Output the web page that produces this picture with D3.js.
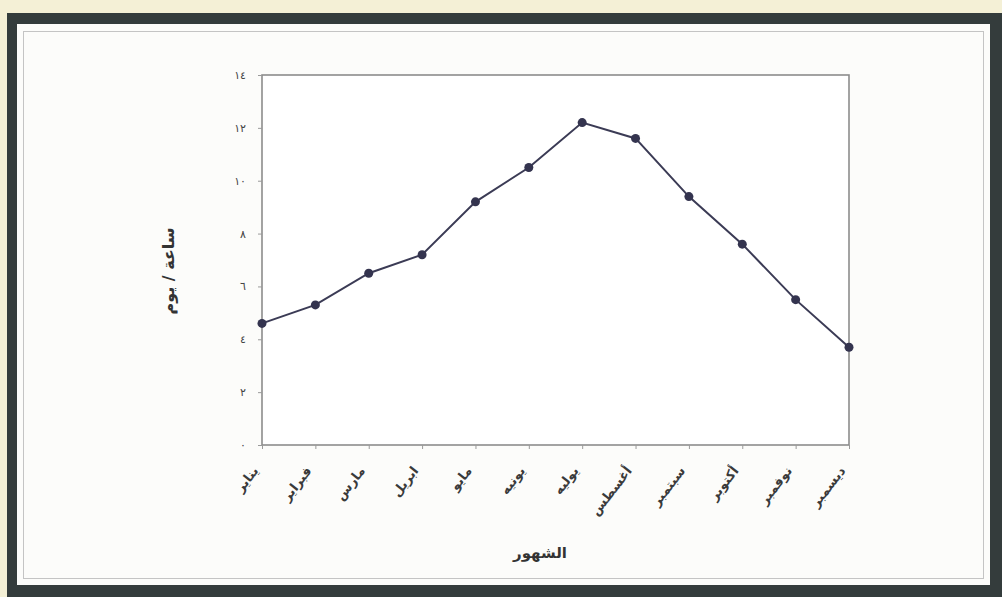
<!DOCTYPE html>
<html>
<head>
<meta charset="utf-8">
<script src="https://cdn.jsdelivr.net/npm/d3@7"></script>
<style>
  html, body { margin: 0; padding: 0; background: #f4f0d6; }
  svg { display: block; }
</style>
</head>
<body>
<svg id="chart" width="1002" height="597"></svg>
<script>
// Monthly sunshine duration (hours per day)
const months = ["يناير", "فبراير", "مارس", "ابريل", "مايو", "يونيه",
                "يوليه", "أغسطس", "سبتمبر", "أكتوبر", "نوفمبر", "ديسمبر"];
const hours = [4.6, 5.3, 6.5, 7.2, 9.2, 10.5, 12.2, 11.6, 9.4, 7.6, 5.5, 3.7];
const yTicks = [0, 2, 4, 6, 8, 10, 12, 14];
const yTitle = "ساعة / يوم";
const xTitle = "الشهور";

const arabicDigits = n => String(n).replace(/\d/g, d => "٠١٢٣٤٥٦٧٨٩"[d]);

const svg = d3.select("#chart");

// Dark picture frame and white mat
svg.append("rect").attr("x", 7).attr("y", 13).attr("width", 995).attr("height", 584)
  .attr("fill", "#343c3c");
svg.append("rect").attr("x", 17).attr("y", 24).attr("width", 973).attr("height", 561)
  .attr("fill", "#fcfcfa");
svg.append("rect").attr("x", 23.5).attr("y", 31.5).attr("width", 960).attr("height", 547)
  .attr("fill", "none").attr("stroke", "#c4c4c4").attr("stroke-width", 1);

// Plot area
const plot = { left: 262, right: 849, top: 75, bottom: 445 };

const x = d3.scalePoint().domain(months).range([plot.left, plot.right]).padding(0);
const y = d3.scaleLinear().domain([0, 14]).range([plot.bottom, plot.top]);

svg.append("rect")
  .attr("x", plot.left).attr("y", plot.top)
  .attr("width", plot.right - plot.left).attr("height", plot.bottom - plot.top)
  .attr("fill", "#ffffff").attr("stroke", "#8c8c8c").attr("stroke-width", 1.6);

// Y axis
const yAxis = svg.append("g")
  .attr("transform", `translate(${plot.left},0)`)
  .call(d3.axisLeft(y).tickValues(yTicks).tickSize(4).tickPadding(12)
    .tickFormat(arabicDigits));
yAxis.select(".domain").remove();
yAxis.selectAll(".tick line").attr("stroke", "#9a9a9a");
yAxis.selectAll(".tick text")
  .attr("font-family", "DejaVu Sans, sans-serif").attr("font-size", 11)
  .attr("fill", "#444");

// X axis
const xAxis = svg.append("g")
  .attr("transform", `translate(0,${plot.bottom})`)
  .call(d3.axisBottom(x).tickSize(4).tickFormat(""));
xAxis.select(".domain").remove();
xAxis.selectAll(".tick line").attr("stroke", "#9a9a9a");

svg.append("g").selectAll("text")
  .data(months)
  .join("text")
  .attr("transform", d => `translate(${x(d) - 3},${plot.bottom + 26}) rotate(-52)`)
  .attr("text-anchor", "end")
  .attr("font-family", "DejaVu Sans, sans-serif")
  .attr("font-size", 13)
  .attr("font-weight", "bold")
  .attr("fill", "#3a3a3a")
  .text(d => d);

// Line and markers
const line = d3.line().x((d, i) => x(months[i])).y(d => y(d));
svg.append("path")
  .datum(hours)
  .attr("d", line)
  .attr("fill", "none")
  .attr("stroke", "#3b3b55")
  .attr("stroke-width", 2);

svg.append("g").selectAll("circle")
  .data(hours)
  .join("circle")
  .attr("cx", (d, i) => x(months[i]))
  .attr("cy", d => y(d))
  .attr("r", 4.5)
  .attr("fill", "#34344f");

// Axis titles
svg.append("text")
  .attr("transform", "translate(174,271) rotate(-90)")
  .attr("text-anchor", "middle")
  .attr("font-family", "DejaVu Sans, sans-serif")
  .attr("font-size", 16)
  .attr("font-weight", "bold")
  .attr("fill", "#333")
  .text(yTitle);

svg.append("text")
  .attr("x", 540).attr("y", 558)
  .attr("text-anchor", "middle")
  .attr("font-family", "DejaVu Sans, sans-serif")
  .attr("font-size", 15)
  .attr("font-weight", "bold")
  .attr("fill", "#333")
  .text(xTitle);
</script>
</body>
</html>
